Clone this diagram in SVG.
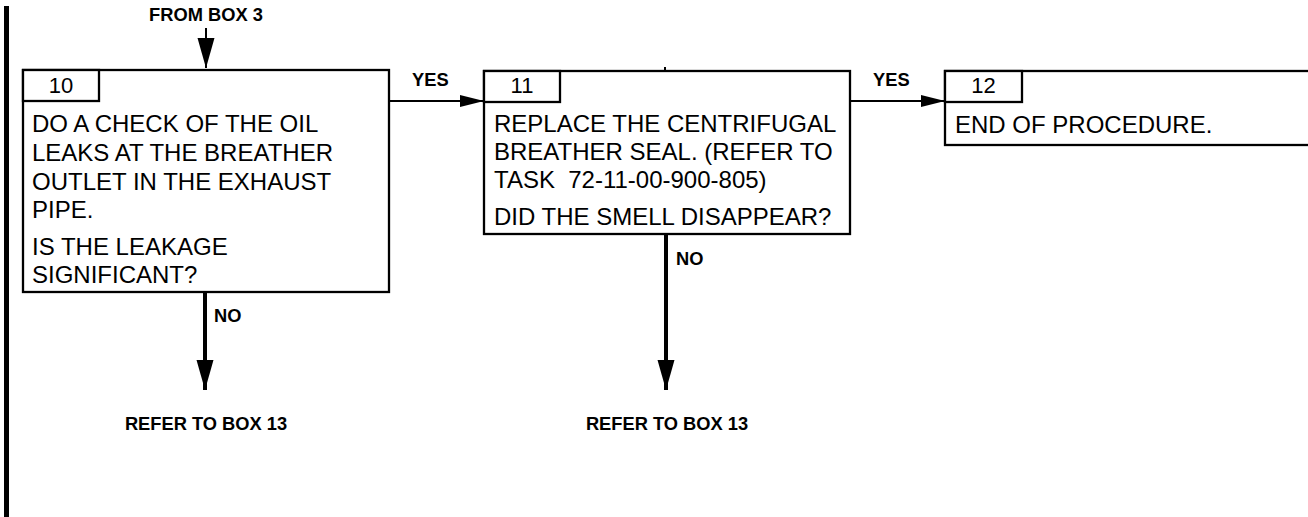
<svg xmlns="http://www.w3.org/2000/svg" width="1308" height="517" viewBox="0 0 1308 517">
<style>
.box{fill:#fff;stroke:#000;stroke-width:2.3}
.t{font-family:"Liberation Sans",Arial,sans-serif;font-size:24px;fill:#000}
.n{font-family:"Liberation Sans",Arial,sans-serif;font-size:22px;fill:#000;text-anchor:middle}
.b{font-family:"Liberation Sans",Arial,sans-serif;font-size:18.3px;font-weight:bold;fill:#000}
.thin{stroke:#000;stroke-width:2;fill:none}
.thick{stroke:#000;stroke-width:4;fill:none}
</style>
<defs>
<marker id="ah" markerUnits="userSpaceOnUse" markerWidth="32" markerHeight="18" refX="30" refY="8.5" orient="auto">
<path d="M0,0 L30,8.5 L0,17 Z" fill="#000"/>
</marker>
<marker id="ahs" markerUnits="userSpaceOnUse" markerWidth="26" markerHeight="14" refX="24" refY="6" orient="auto">
<path d="M0,0 L24,6 L0,12 Z" fill="#000"/>
</marker>
</defs>
<rect x="4" y="6" width="5" height="511" fill="#000"/>
<g id="connectors">
<line class="thin" x1="206" y1="28" x2="206" y2="68" marker-end="url(#ah)"/>
<line class="thin" x1="389" y1="101" x2="484" y2="101" marker-end="url(#ahs)"/>
<line class="thin" x1="850" y1="101" x2="945" y2="101" marker-end="url(#ahs)"/>
<line class="thick" x1="205" y1="292" x2="205" y2="390" marker-end="url(#ah)"/>
<line class="thick" x1="666" y1="234" x2="666" y2="390" marker-end="url(#ah)"/>
<line class="thin" x1="665" y1="67" x2="665" y2="71"/>
<text class="b" x="206" y="21" text-anchor="middle">FROM BOX 3</text>
<text class="b" x="412" y="86">YES</text>
<text class="b" x="873" y="86">YES</text>
<text class="b" x="214" y="322">NO</text>
<text class="b" x="676" y="265">NO</text>
<text class="b" x="206" y="430" text-anchor="middle">REFER TO BOX 13</text>
<text class="b" x="667" y="430" text-anchor="middle">REFER TO BOX 13</text>
</g>
<g id="box10">
<rect class="box" x="23" y="70" width="366" height="222"/>
<rect class="box" x="23" y="70" width="76" height="31"/>
<text class="n" x="61" y="93">10</text>
<text class="t" x="32" y="132">DO A CHECK OF THE OIL</text>
<text class="t" x="32" y="161">LEAKS AT THE BREATHER</text>
<text class="t" x="32" y="190">OUTLET IN THE EXHAUST</text>
<text class="t" x="32" y="218">PIPE.</text>
<text class="t" x="32" y="255">IS THE LEAKAGE</text>
<text class="t" x="32" y="283">SIGNIFICANT?</text>
</g>
<g id="box11">
<rect class="box" x="484" y="71" width="366" height="163"/>
<rect class="box" x="484" y="71" width="76" height="31"/>
<text class="n" x="522" y="93">11</text>
<text class="t" x="494" y="132">REPLACE THE CENTRIFUGAL</text>
<text class="t" x="494" y="160">BREATHER SEAL. (REFER TO</text>
<text class="t" x="494" y="188">TASK&#160; 72-11-00-900-805)</text>
<text class="t" x="494" y="225">DID THE SMELL DISAPPEAR?</text>
</g>
<g id="box12">
<rect class="box" x="945" y="71" width="380" height="74"/>
<rect class="box" x="945" y="71" width="77" height="31"/>
<text class="n" x="983.5" y="93">12</text>
<text class="t" x="955" y="133">END OF PROCEDURE.</text>
</g>
</svg>
